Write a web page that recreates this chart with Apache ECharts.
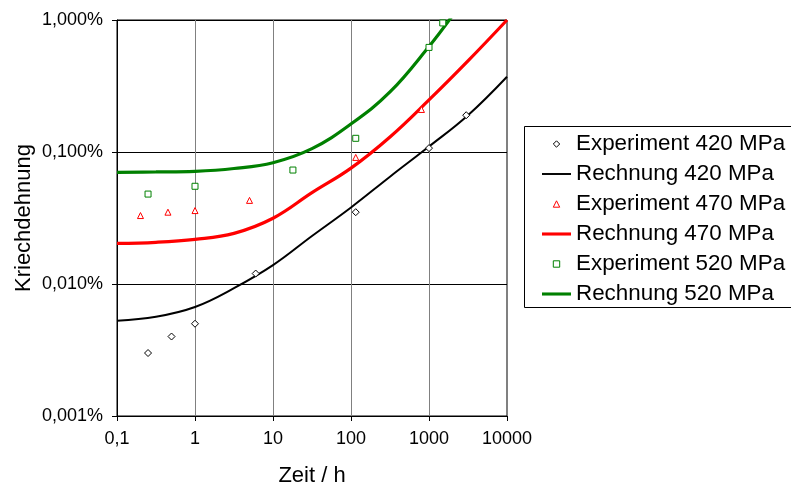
<!DOCTYPE html>
<html>
<head>
<meta charset="utf-8">
<script src="https://cdn.jsdelivr.net/npm/echarts@6/dist/echarts.min.js"></script>
<style>
  html, body { margin: 0; padding: 0; background: #fff; }
  #chart { width: 791px; height: 484px; }
</style>
</head>
<body>
<div id="chart"></div>
<script>
// Creep strain (%) versus time (h), measured and calculated, at three stress levels.
const FONT = '"Liberation Sans", Arial, sans-serif';

// Tick labels of the two logarithmic axes (one per decade)
const timeTickLabels = ['0,1', '1', '10', '100', '1000', '10000'];   // 10^-1 .. 10^4
const strainTickLabels = ['0,001%', '0,010%', '0,100%', '1,000%'];  // 10^-3 .. 10^0

// Measured points: [time h, strain %]
const exp420 = [[0.25, 0.003], [0.5, 0.004], [1, 0.005], [6, 0.012], [115, 0.035], [1000, 0.107], [3000, 0.19]];
const exp470 = [[0.2, 0.033], [0.45, 0.035], [1, 0.036], [5, 0.043], [115, 0.091], [800, 0.21]];
const exp520 = [[0.25, 0.048], [1, 0.055], [18, 0.073], [115, 0.127], [1000, 0.62], [1500, 0.95]];

// Calculated curves, sampled every half decade of time
const calcTimes = [0.1, 0.316, 1, 3.16, 10, 31.6, 100, 316, 1000, 3162, 10000];
const calc420 = [0.00527, 0.00565, 0.0067, 0.0093, 0.0139, 0.0231, 0.038, 0.065, 0.11, 0.19, 0.372];
const calc470 = [0.0203, 0.0207, 0.0218, 0.0242, 0.0315, 0.0492, 0.0755, 0.13, 0.248, 0.49, 1.0];
// the 520 MPa curve leaves the plot through the top edge shortly before 2000 h
const calcTimes520 = [0.1, 0.316, 1, 3.16, 10, 31.6, 100, 316, 1000, 2000];
const calc520 = [0.0702, 0.0706, 0.0714, 0.075, 0.083, 0.106, 0.163, 0.285, 0.63, 1.08];

const names = {
  e420: 'Experiment 420 MPa', c420: 'Rechnung 420 MPa',
  e470: 'Experiment 470 MPa', c470: 'Rechnung 470 MPa',
  e520: 'Experiment 520 MPa', c520: 'Rechnung 520 MPa'
};

const pairUp = (xs, ys) => ys.map((y, i) => [xs[i], y]);
const decade = (v) => Math.round(Math.log10(v));

function calcSeries(name, xs, ys, color, width) {
  return {
    name, type: 'line', data: pairUp(xs, ys), smooth: 0.4,
    symbol: 'none', clip: true, silent: true,
    lineStyle: { color, width }, itemStyle: { color },
    emphasis: { disabled: true }, z: 2
  };
}
function expSeries(name, pts, symbol, size, stroke) {
  return {
    name, type: 'line', data: pts, symbol, symbolSize: size, showSymbol: true,
    silent: true, lineStyle: { width: 0 },
    itemStyle: { color: '#fff', borderColor: stroke, borderWidth: 1 },
    emphasis: { disabled: true }, z: 3
  };
}

const hollowIcon = (stroke) => ({ color: '#fff', borderColor: stroke, borderWidth: 1 });

const chart = echarts.init(document.getElementById('chart'), null, { renderer: 'canvas' });
chart.setOption({
  animation: false,
  backgroundColor: '#fff',
  grid: {
    left: 117, top: 20, right: 284, bottom: 68,
    show: true, borderColor: '#000', borderWidth: 1,
    outerBoundsMode: 'none'
  },
  xAxis: {
    type: 'log', logBase: 10, min: 0.1, max: 10000,
    name: 'Zeit / h', nameLocation: 'middle', nameGap: 49,
    nameTextStyle: { fontFamily: FONT, fontSize: 22, color: '#000' },
    axisLine: { lineStyle: { color: '#000', width: 1 } },
    axisTick: { show: true, length: 5, lineStyle: { color: '#000' } },
    minorTick: { show: false },
    axisLabel: {
      margin: 14, fontFamily: FONT, fontSize: 18, color: '#000',
      formatter: (v) => timeTickLabels[decade(v) + 1]
    },
    splitLine: { show: true, lineStyle: { color: '#808080', width: 1 } }
  },
  yAxis: {
    type: 'log', logBase: 10, min: 0.001, max: 1,
    name: 'Kriechdehnung', nameLocation: 'middle', nameGap: 82,
    nameTextStyle: { fontFamily: FONT, fontSize: 22, color: '#000' },
    axisLine: { show: true, lineStyle: { color: '#000', width: 1 } },
    axisTick: { show: true, length: 5, lineStyle: { color: '#000' } },
    axisLabel: {
      margin: 14, fontFamily: FONT, fontSize: 18, color: '#000',
      formatter: (v) => strainTickLabels[decade(v) + 3]
    },
    splitLine: { show: true, lineStyle: { color: '#000', width: 1 } }
  },
  legend: {
    orient: 'vertical', left: 537, top: 128,
    itemWidth: 29, itemHeight: 8, itemGap: 8,
    selectedMode: false,
    textStyle: { fontFamily: FONT, fontSize: 22.4, color: '#000' },
    data: [
      { name: names.e420, itemStyle: hollowIcon('#000000') },
      { name: names.c420, icon: 'path://M0,0H30V2H0Z' },
      { name: names.e470, itemStyle: hollowIcon('#ff0000') },
      { name: names.c470, icon: 'path://M0,0H30V3.2H0Z' },
      { name: names.e520, itemStyle: hollowIcon('#008000') },
      { name: names.c520, icon: 'path://M0,0H30V3.2H0Z' }
    ]
  },
  graphic: [{
    type: 'rect', z: -1, silent: true,
    shape: { x: 524.5, y: 126.5, width: 300, height: 181 },
    style: { fill: '#fff', stroke: '#000', lineWidth: 1 }
  }],
  series: [
    calcSeries(names.c420, calcTimes, calc420, '#000000', 2),
    calcSeries(names.c470, calcTimes, calc470, '#ff0000', 3.2),
    calcSeries(names.c520, calcTimes520, calc520, '#008000', 3.2),
    expSeries(names.e420, exp420, 'diamond', 7, '#000000'),
    expSeries(names.e470, exp470, 'triangle', 6, '#ff0000'),
    expSeries(names.e520, exp520, 'rect', 6, '#008000')
  ]
});
</script>
</body>
</html>
